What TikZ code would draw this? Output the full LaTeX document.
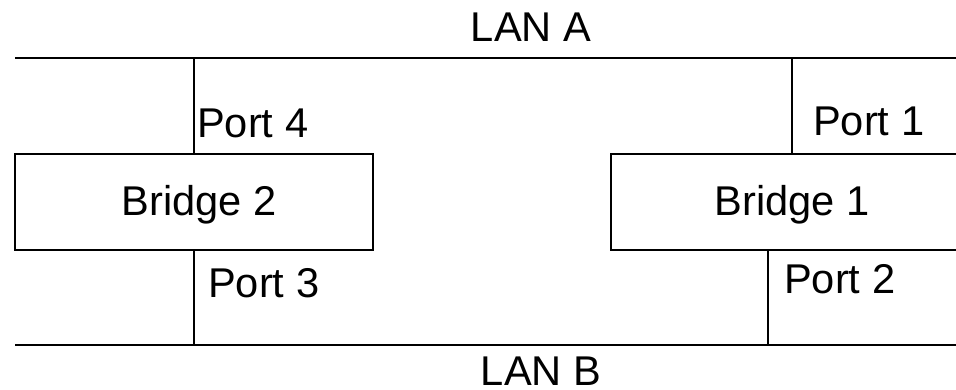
\documentclass[tikz,border=0pt]{standalone}
\usepackage{fontspec}
\setmainfont{Liberation Sans}

\begin{document}
\begin{tikzpicture}[x=1pt,y=-1pt,
    lan/.style={line width=1.2pt},
    link/.style={line width=1.1pt},
    bridge/.style={draw,line width=1.5pt,rectangle,inner sep=0pt},
    lbl/.style={inner sep=0pt,font=\fontsize{41.6}{50}\selectfont}]
    \useasboundingbox (0,0) rectangle (956,390);
    \clip (0,0) rectangle (956,390);
    % the two LAN segments
    \coordinate (lanAw) at (15,58);
    \coordinate (lanAe) at (960,58);
    \coordinate (lanBw) at (15,345);
    \coordinate (lanBe) at (960,345);
    \draw [lan] (lanAw) -- (lanAe);
    \draw [lan] (lanBw) -- (lanBe);
    \node[lbl,anchor=base] (lanA) at (531,42) {LAN A};
    \node[lbl,anchor=base] (lanB) at (541,385) {LAN B};
    % bridges
    \node[bridge,minimum width=358pt,minimum height=96pt] (br2) at (194,202) {};
    \node[bridge,minimum width=362pt,minimum height=96pt] (br1) at (792,202) {};
    \node[lbl] (br2txt) at (199,205) {Bridge 2};
    \node[lbl] (br1txt) at (792,205) {Bridge 1};
    % ports
    \coordinate (p2) at (768,250);
    \draw [link] (br2.north) -- (br2.north |- lanAw);
    \draw [link] (br2.south) -- (br2.south |- lanBw);
    \draw [link] (br1.north) -- (br1.north |- lanAw);
    \draw [link] (p2) -- (p2 |- lanBw);
    \node[lbl,anchor=base west] (port4) at (197,138) {Port 4};
    \node[lbl,anchor=base west] (port3) at (208,298) {Port 3};
    \node[lbl,anchor=base west] (port1) at (813,136) {Port 1};
    \node[lbl,anchor=base west] (port2) at (784,294) {Port 2};
  \end{tikzpicture}
\end{document}
